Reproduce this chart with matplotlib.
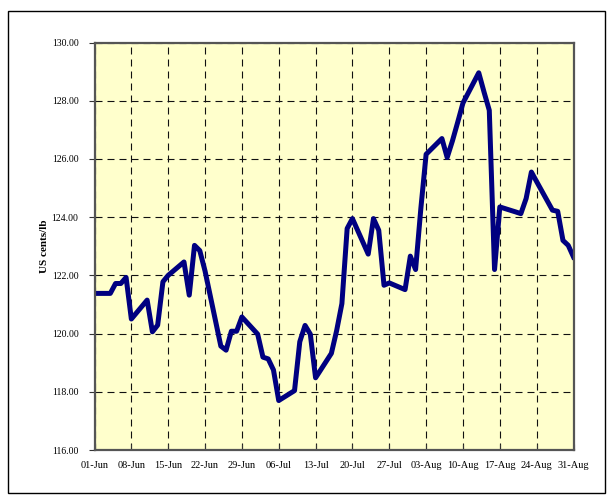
import matplotlib
matplotlib.use("Agg")
import matplotlib.pyplot as plt
import matplotlib.dates as mdates
from matplotlib.patches import Rectangle
import pandas as pd

dates = [
    "2007-06-01", "2007-06-04", "2007-06-05", "2007-06-06", "2007-06-07", "2007-06-08",
    "2007-06-11", "2007-06-12", "2007-06-13", "2007-06-14", "2007-06-15",
    "2007-06-18", "2007-06-19", "2007-06-20", "2007-06-21", "2007-06-22",
    "2007-06-25", "2007-06-26", "2007-06-27", "2007-06-28", "2007-06-29",
    "2007-07-02", "2007-07-03", "2007-07-04", "2007-07-05", "2007-07-06",
    "2007-07-09", "2007-07-10", "2007-07-11", "2007-07-12", "2007-07-13",
    "2007-07-16", "2007-07-17", "2007-07-18", "2007-07-19", "2007-07-20",
    "2007-07-23", "2007-07-24", "2007-07-25", "2007-07-26", "2007-07-27",
    "2007-07-30", "2007-07-31", "2007-08-01", "2007-08-02", "2007-08-03",
    "2007-08-06", "2007-08-07", "2007-08-08", "2007-08-09", "2007-08-10",
    "2007-08-13", "2007-08-14", "2007-08-15", "2007-08-16", "2007-08-17",
    "2007-08-20", "2007-08-21", "2007-08-22", "2007-08-23", "2007-08-24",
    "2007-08-27", "2007-08-28", "2007-08-29", "2007-08-30", "2007-08-31",
]
prices = [
    121.38, 121.38, 121.72, 121.72, 121.93, 120.50,
    121.15, 120.06, 120.29, 121.78, 122.00,
    122.46, 121.32, 123.03, 122.85, 122.15,
    119.57, 119.43, 120.08, 120.08, 120.57,
    119.98, 119.19, 119.13, 118.75, 117.70,
    118.04, 119.72, 120.28, 119.98, 118.48,
    119.32, 120.10, 121.03, 123.61, 123.95,
    122.73, 123.95, 123.55, 121.66, 121.74,
    121.51, 122.66, 122.20, 124.30, 126.16,
    126.70, 126.05, 126.62, 127.26, 127.92,
    128.96, 128.30, 127.67, 122.20, 124.35,
    124.18, 124.12, 124.64, 125.55, 125.22,
    124.24, 124.20, 123.20, 123.03, 122.63,
]
y_ticks = [116, 118, 120, 122, 124, 126, 128, 130]
y_label = "US cents/lb"

x = pd.to_datetime(dates)
W, H = 607, 496
fig = plt.figure(figsize=(W / 100, H / 100), dpi=100)
fig.patch.set_facecolor("white")

# outer frame
fig.add_artist(Rectangle((8 / W, 1 - 493 / H), 597 / W, 482 / H,
                         transform=fig.transFigure, fill=False,
                         edgecolor="black", linewidth=1.0))

ax = fig.add_axes([94.5 / W, 1 - 450 / H, 479 / W, 407.5 / H])
ax.set_facecolor("#FFFFCC")

ax.plot(x, prices, color="#000080", linewidth=3.6, solid_joinstyle="round",
        zorder=3)

start = pd.Timestamp("2007-06-01")
end = pd.Timestamp("2007-08-31")
ax.set_xlim(start, end)
ax.set_ylim(116, 130)
xt = pd.date_range(start, end, freq="7D")
ax.set_xticks(xt)
ax.xaxis.set_major_formatter(mdates.DateFormatter("%d-%b"))
ax.set_yticks(y_ticks)
ax.set_yticklabels([f"{v:.2f}" for v in y_ticks])

ax.grid(True, color="#111111", linestyle=(0, (6.3, 4.5)), linewidth=0.8)
ax.set_axisbelow(False)
for gl in ax.get_xgridlines() + ax.get_ygridlines():
    gl.set_zorder(2)

for s in ax.spines.values():
    s.set_color("#555555")
    s.set_linewidth(1.6)
    s.set_zorder(4)

serif = ["Liberation Serif", "DejaVu Serif"]
ax.tick_params(axis="x", direction="in", length=4.5, width=0.8, color="#333333",
               pad=8, labelsize=7.5)
ax.tick_params(axis="y", direction="out", length=4.5, width=0.8, color="#333333",
               pad=7, labelsize=7)
for lab in ax.get_xticklabels() + ax.get_yticklabels():
    lab.set_fontfamily(serif)

ax.set_ylabel(y_label, fontfamily=serif, fontweight="bold", fontsize=8,
              labelpad=2)

fig.savefig("out.png", dpi=100, facecolor="white")
